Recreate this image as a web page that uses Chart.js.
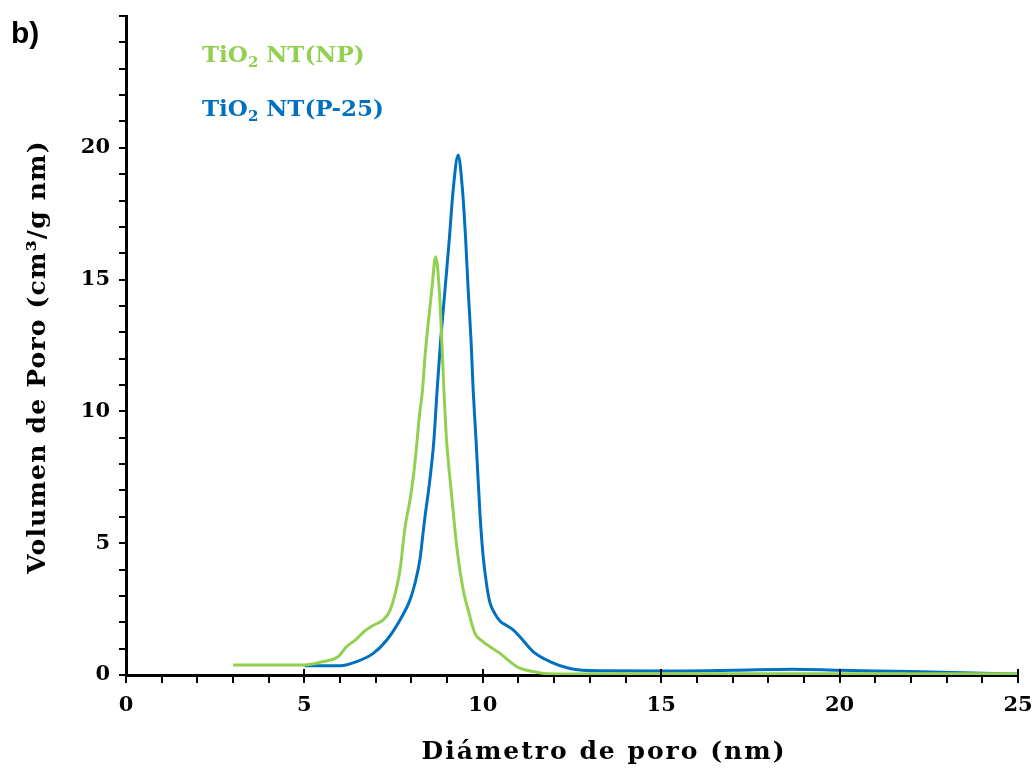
<!DOCTYPE html>
<html>
<head>
<meta charset="utf-8">
<script src="https://cdn.jsdelivr.net/npm/chart.js@4.4.1/dist/chart.umd.min.js"></script>
<style>
  html, body { margin: 0; padding: 0; background: #ffffff; }
  #wrap { width: 1035px; height: 769px; }
</style>
</head>
<body>
<div id="wrap"><canvas id="chart" width="1035" height="769"></canvas></div>
<script>
// Pore size distribution, TiO2 nanotubes (NT) from two precursors
const npDiameter = [3, 5, 5.5, 5.94, 6.18, 6.45, 6.70, 6.95, 7.21, 7.40, 7.57, 7.68, 7.82, 7.96, 8.06, 8.16, 8.22, 8.31, 8.38, 8.47, 8.57, 8.68, 8.78, 8.85, 8.91, 8.98, 9.13, 9.27, 9.45, 9.59, 9.78, 10.01, 10.20, 10.48, 10.95, 11.41, 11.79, 12.5, 15, 20, 25];
const npVolume   = [0.38, 0.38, 0.50, 0.69, 1.07, 1.35, 1.68, 1.90, 2.09, 2.45, 3.23, 3.98, 5.60, 6.64, 7.60, 8.90, 9.80, 10.80, 12.08, 13.35, 14.61, 15.87, 14.61, 12.71, 10.82, 9.00, 6.77, 4.87, 3.23, 2.47, 1.58, 1.26, 1.07, 0.82, 0.32, 0.13, 0.05, 0.04, 0.05, 0.05, 0.05];

const p25Diameter = [5, 5.5, 6.0, 6.47, 6.93, 7.31, 7.68, 7.96, 8.10, 8.24, 8.31, 8.38, 8.47, 8.55, 8.63, 8.72, 8.82, 8.94, 9.06, 9.17, 9.31, 9.43, 9.52, 9.59, 9.67, 9.73, 9.81, 9.92, 10.01, 10.11, 10.20, 10.35, 10.48, 10.70, 10.85, 11.04, 11.41, 11.88, 12.44, 13.28, 15, 17, 18.7, 20, 22, 25];
const p25Volume   = [0.35, 0.35, 0.35, 0.51, 0.82, 1.33, 2.09, 2.85, 3.48, 4.40, 5.20, 6.01, 6.90, 7.80, 8.92, 10.82, 12.71, 14.61, 16.51, 18.41, 19.73, 18.41, 16.51, 14.61, 12.71, 10.82, 8.92, 6.13, 4.50, 3.40, 2.75, 2.30, 2.05, 1.85, 1.71, 1.45, 0.89, 0.51, 0.25, 0.16, 0.15, 0.18, 0.22, 0.18, 0.13, 0.04];

const xTickLabels = [0, 5, 10, 15, 20, 25];
const yTickLabels = [0, 5, 10, 15, 20];

const seriesNames = ['NT(NP)', 'NT(P-25)'];
const seriesColors = ['#92D050', '#0070C0'];

const xTitle = 'Diámetro de poro (nm)';
const yTitle = 'Volumen de Poro (cm³/g nm)';

const SERIF = '"DejaVu Serif", serif';

function toPoints(xs, ys) {
  return xs.map((x, i) => ({ x: x, y: ys[i] }));
}

// Major x ticks also poke a little above the axis line
const majorTicks = {
  id: 'majorTicks',
  afterDatasetsDraw(chart) {
    const ctx = chart.ctx;
    const xs = chart.scales.x;
    const yBase = chart.chartArea.bottom;
    ctx.save();
    ctx.strokeStyle = '#000';
    ctx.lineWidth = 2;
    xTickLabels.forEach(v => {
      if (v === 0) return;
      const px = Math.round(xs.getPixelForValue(v));
      ctx.beginPath();
      ctx.moveTo(px, yBase - 6);
      ctx.lineTo(px, yBase);
      ctx.stroke();
    });
    ctx.restore();
  }
};

// Panel letter, axis titles and the coloured series labels (TiO₂ with a lowered 2)
const annotations = {
  id: 'annotations',
  afterDraw(chart) {
    const ctx = chart.ctx;
    ctx.save();
    ctx.textBaseline = 'alphabetic';
    ctx.textAlign = 'left';
    ctx.fillStyle = '#000';
    ctx.font = 'bold 30px "Liberation Sans", sans-serif';
    ctx.fillText('b)', 11, 43);

    // axis titles
    ctx.font = 'bold 25px ' + SERIF;
    ctx.textAlign = 'center';
    ctx.textBaseline = 'middle';
    ctx.letterSpacing = '2px';
    ctx.fillText(xTitle, 604, 752);
    ctx.letterSpacing = '1.2px';
    ctx.save();
    ctx.translate(38, 357);
    ctx.rotate(-Math.PI / 2);
    ctx.fillText(yTitle, 0, 0);
    ctx.restore();
    ctx.letterSpacing = '0px';

    ctx.textAlign = 'left';
    ctx.textBaseline = 'alphabetic';
    const rows = [62, 116];
    seriesNames.forEach((name, i) => {
      let x = 202;
      const y = rows[i];
      ctx.fillStyle = seriesColors[i];
      ctx.font = 'bold 23px ' + SERIF;
      ctx.fillText('TiO', x, y);
      x += ctx.measureText('TiO').width;
      ctx.font = 'bold 15px ' + SERIF;
      ctx.fillText('2', x, y + 5);
      x += ctx.measureText('2').width;
      ctx.font = 'bold 23px ' + SERIF;
      ctx.fillText(' ' + name, x, y);
    });
    ctx.restore();
  }
};

const tickFont = { family: SERIF, weight: 'bold', size: 21 };

new Chart(document.getElementById('chart').getContext('2d'), {
  type: 'line',
  data: {
    datasets: [
      {
        label: 'TiO2 ' + seriesNames[0],
        data: toPoints(npDiameter, npVolume),
        borderColor: seriesColors[0],
        borderWidth: 3,
        pointRadius: 0,
        fill: false,
        cubicInterpolationMode: 'monotone'
      },
      {
        label: 'TiO2 ' + seriesNames[1],
        data: toPoints(p25Diameter, p25Volume),
        borderColor: seriesColors[1],
        borderWidth: 3,
        pointRadius: 0,
        fill: false,
        cubicInterpolationMode: 'monotone'
      }
    ]
  },
  options: {
    responsive: false,
    animation: false,
    layout: { padding: { left: 0, right: 17, top: 16, bottom: 0 } },
    plugins: {
      legend: { display: false },
      tooltip: { enabled: false }
    },
    scales: {
      x: {
        type: 'linear',
        min: 0,
        max: 25,
        ticks: {
          stepSize: 1,
          autoSkip: false,
          maxRotation: 0,
          padding: 10,
          color: '#000',
          font: tickFont,
          callback: v => xTickLabels.includes(v) ? String(v) : ''
        },
        grid: { drawOnChartArea: false, drawTicks: true, tickLength: 8, color: '#000', lineWidth: 2 },
        border: { display: true, color: '#000', width: 3 },
        title: { display: false },
        afterFit: s => { s.height = 94; s.paddingLeft = 0; s.paddingRight = 0; }
      },
      y: {
        type: 'linear',
        min: 0,
        max: 25,
        ticks: {
          stepSize: 1,
          autoSkip: false,
          padding: 9,
          color: '#000',
          font: tickFont,
          callback: v => yTickLabels.includes(v) ? String(v) : ''
        },
        grid: { drawOnChartArea: false, drawTicks: true, tickLength: 7, color: '#000', lineWidth: 2 },
        border: { display: true, color: '#000', width: 3 },
        title: { display: false },
        afterFit: s => { s.width = 126; s.paddingTop = 0; s.paddingBottom = 0; }
      }
    }
  },
  plugins: [majorTicks, annotations]
});
</script>
</body>
</html>
